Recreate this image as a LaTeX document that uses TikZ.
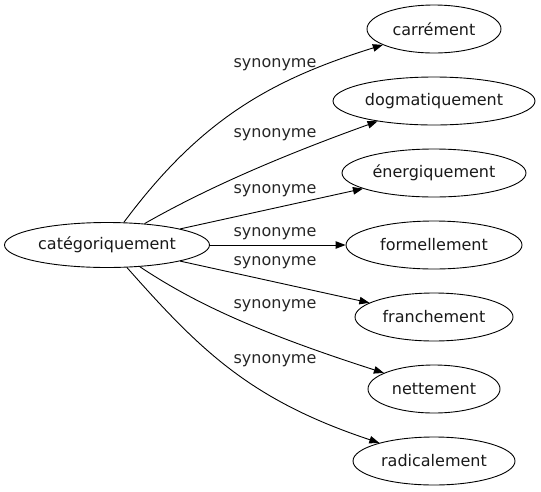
\documentclass[tikz,border=0pt]{standalone}
\usepackage{fontspec}
\setmainfont{DejaVu Sans}
\usetikzlibrary{shapes.geometric,arrows.meta,positioning}
\tikzset{
    word/.style={draw, ellipse, inner sep=0pt, minimum height=48pt, line width=0.9pt,
        font=\fontsize{16}{19}\selectfont, text=black!90},
    rel/.style={font=\fontsize{16}{19}\selectfont, text=black!85, inner sep=0pt},
    arr/.style={-{Triangle[length=10pt,width=7.5pt]}, line width=0.9pt}
}

\begin{document}
\begin{tikzpicture}[x=1pt,y=-1pt]
        \useasboundingbox (0,0) rectangle (541,491);
        \node[word, minimum width=205pt, minimum height=45pt] (cat) at (107,245) {catégoriquement};
        \node[word, minimum width=134pt] (carr) at (434,29) {carrément};
        \node[word, minimum width=202pt, below=23.1pt of carr] (dogm) {dogmatiquement};
        \node[word, minimum width=184pt, below=23.1pt of dogm] (ener) {énergiquement};
        \node[word, minimum width=176pt, below=23.1pt of ener] (form) {formellement};
        \node[word, minimum width=158pt, below=23.1pt of form] (fran) {franchement};
        \node[word, minimum width=132pt, below=23.1pt of fran] (nett) {nettement};
        \node[word, minimum width=162pt, below=23.1pt of nett] (radi) {radicalement};

        \node[rel] (l1) at (275,65) {synonyme};
        \node[rel] (l2) at (275,135) {synonyme};
        \node[rel] (l3) at (275,191) {synonyme};
        \node[rel] (l4) at (275,234) {synonyme};
        \node[rel] (l5) at (275,263) {synonyme};
        \node[rel] (l6) at (275,306) {synonyme};
        \node[rel] (l7) at (275,361) {synonyme};

        \draw[arr] (cat) .. controls (200,120) and (270,80) .. (carr);
        \draw[arr] (cat) .. controls (200,192) and (270,160) .. (dogm);
        \draw[arr] (cat) -- (ener);
        \draw[arr] (cat) -- (form);
        \draw[arr] (cat) -- (fran);
        \draw[arr] (cat) .. controls (190,300) and (250,330) .. (nett);
        \draw[arr] (cat) .. controls (200,350) and (250,400) .. (radi);
\end{tikzpicture}
\end{document}
